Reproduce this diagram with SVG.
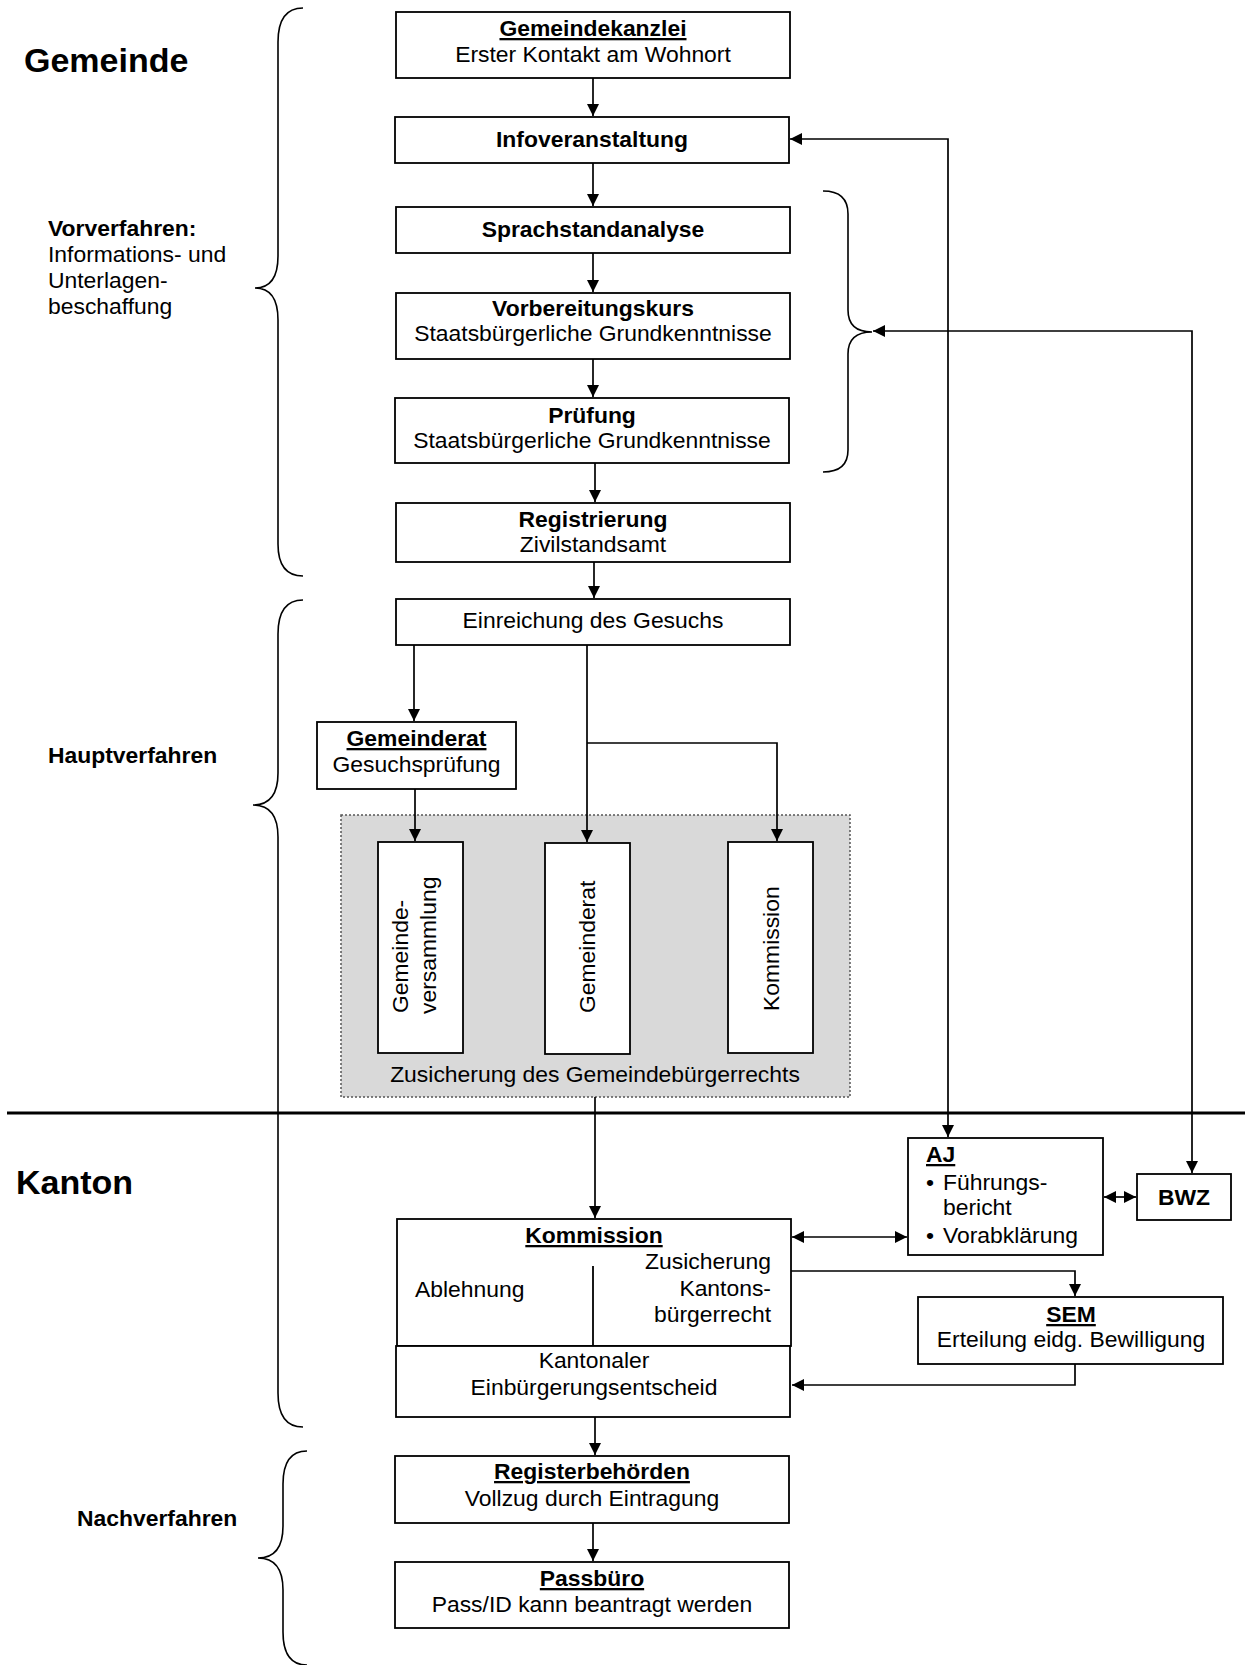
<svg xmlns="http://www.w3.org/2000/svg" width="1249" height="1665" viewBox="0 0 1249 1665">
<style>
text{font-family:"Liberation Sans",Arial,sans-serif;font-size:22.9px;fill:#000}
.b{font-weight:bold}
.u{text-decoration:underline}
.big{font-size:34px;font-weight:bold}
.m{text-anchor:middle}
.e{text-anchor:end}
.box{fill:#fff;stroke:#000;stroke-width:1.8}
.c{fill:none;stroke:#000;stroke-width:1.7}
.brace{fill:none;stroke:#000;stroke-width:1.6}
</style>
<defs>
<marker id="ah" viewBox="0 0 12 12" refX="12" refY="6" markerWidth="12" markerHeight="12" markerUnits="userSpaceOnUse" orient="auto-start-reverse">
<path d="M0,0 L12,6 L0,12 z" fill="#000"/>
</marker>
</defs>
<rect width="1249" height="1665" fill="#fff"/>

<g id="labels">
<text class="big" x="24" y="72">Gemeinde</text>
<text class="b" x="48" y="236">Vorverfahren:</text>
<text x="48" y="262">Informations- und</text>
<text x="48" y="288">Unterlagen-</text>
<text x="48" y="314">beschaffung</text>
<text class="b" x="48" y="763">Hauptverfahren</text>
<text class="big" x="16" y="1194">Kanton</text>
<text class="b" x="77" y="1526">Nachverfahren</text>
</g>

<g id="braces">
<path class="brace" d="M303,8 Q278,8 278,42 L278,256 Q278,288 255,288 Q278,288 278,320 L278,544 Q278,576 303,576"/>
<path class="brace" d="M303,600 Q278,600 278,634 L278,773 Q278,805 253,805 Q278,805 278,837 L278,1393 Q278,1427 303,1427"/>
<path class="brace" d="M307,1451 Q283,1451 283,1484 L283,1526 Q283,1558 258,1558 Q283,1558 283,1590 L283,1632 Q283,1665 307,1665"/>
<path class="brace" d="M823,191 Q848,191 848,214 L848,310 Q848,332 872,332 Q848,332 848,354 L848,450 Q848,472 823,472"/>
</g>

<line id="divider" x1="7" y1="1113" x2="1245" y2="1113" stroke="#000" stroke-width="3"/>

<g id="n-gemeindekanzlei">
<rect class="box" x="396" y="12" width="394" height="66"/>
<text class="b u m" x="593" y="36">Gemeindekanzlei</text>
<text class="m" x="593" y="62">Erster Kontakt am Wohnort</text>
</g>
<g id="n-infoveranstaltung">
<rect class="box" x="395" y="117" width="394" height="46"/>
<text class="b m" x="592" y="147">Infoveranstaltung</text>
</g>
<g id="n-sprachstandanalyse">
<rect class="box" x="396" y="207" width="394" height="46"/>
<text class="b m" x="593" y="237">Sprachstandanalyse</text>
</g>
<g id="n-vorbereitungskurs">
<rect class="box" x="396" y="293" width="394" height="66"/>
<text class="b m" x="593" y="316">Vorbereitungskurs</text>
<text class="m" x="593" y="341">Staatsbürgerliche Grundkenntnisse</text>
</g>
<g id="n-pruefung">
<rect class="box" x="395" y="398" width="394" height="65"/>
<text class="b m" x="592" y="423">Prüfung</text>
<text class="m" x="592" y="448">Staatsbürgerliche Grundkenntnisse</text>
</g>
<g id="n-registrierung">
<rect class="box" x="396" y="503" width="394" height="59"/>
<text class="b m" x="593" y="527">Registrierung</text>
<text class="m" x="593" y="552">Zivilstandsamt</text>
</g>
<g id="n-einreichung">
<rect class="box" x="396" y="599" width="394" height="46"/>
<text class="m" x="593" y="628">Einreichung des Gesuchs</text>
</g>
<g id="n-gemeinderat-pruefung">
<rect class="box" x="317" y="722" width="199" height="67"/>
<text class="b u m" x="416.5" y="746">Gemeinderat</text>
<text class="m" x="416.5" y="772">Gesuchsprüfung</text>
</g>

<g id="n-zusicherung-gemeinde">
<rect x="341" y="815" width="509" height="282" fill="#d9d9d9" stroke="#555" stroke-width="1.5" stroke-dasharray="2,2"/>
<text class="m" x="595" y="1082">Zusicherung des Gemeindebürgerrechts</text>
</g>
<g id="n-gemeindeversammlung">
<rect class="box" x="378" y="842" width="85" height="211"/>
<text transform="translate(408,1013) rotate(-90)">Gemeinde-</text>
<text transform="translate(436,1014) rotate(-90)">versammlung</text>
</g>
<g id="n-gemeinderat">
<rect class="box" x="545" y="843" width="85" height="211"/>
<text transform="translate(595,1013) rotate(-90)">Gemeinderat</text>
</g>
<g id="n-kommission-gemeinde">
<rect class="box" x="728" y="842" width="85" height="211"/>
<text transform="translate(779,1011) rotate(-90)">Kommission</text>
</g>

<g id="n-kommission">
<rect class="box" x="397" y="1219" width="394" height="127"/>
<line x1="593" y1="1266" x2="593" y2="1346" stroke="#000" stroke-width="1.8"/>
<text class="b u m" x="594" y="1243">Kommission</text>
<text x="415" y="1297">Ablehnung</text>
<text class="e" x="771" y="1269">Zusicherung</text>
<text class="e" x="771" y="1296">Kantons-</text>
<text class="e" x="771" y="1322">bürgerrecht</text>
</g>
<g id="n-einbuergerungsentscheid">
<rect class="box" x="396" y="1346" width="394" height="71"/>
<text class="m" x="594" y="1368">Kantonaler</text>
<text class="m" x="594" y="1395">Einbürgerungsentscheid</text>
</g>
<g id="n-aj">
<rect class="box" x="908" y="1138" width="195" height="117"/>
<text class="b u" x="926" y="1162">AJ</text>
<text x="926" y="1190">•</text>
<text x="943" y="1190">Führungs-</text>
<text x="943" y="1215">bericht</text>
<text x="926" y="1243">•</text>
<text x="943" y="1243">Vorabklärung</text>
</g>
<g id="n-bwz">
<rect class="box" x="1137" y="1174" width="94" height="46"/>
<text class="b m" x="1184" y="1205">BWZ</text>
</g>
<g id="n-sem">
<rect class="box" x="918" y="1297" width="305" height="67"/>
<text class="b u m" x="1071" y="1322">SEM</text>
<text class="m" x="1071" y="1347">Erteilung eidg. Bewilligung</text>
</g>
<g id="n-registerbehoerden">
<rect class="box" x="395" y="1456" width="394" height="67"/>
<text class="b u m" x="592" y="1479">Registerbehörden</text>
<text class="m" x="592" y="1506">Vollzug durch Eintragung</text>
</g>
<g id="n-passbuero">
<rect class="box" x="395" y="1562" width="394" height="66"/>
<text class="b u m" x="592" y="1586">Passbüro</text>
<text class="m" x="592" y="1612">Pass/ID kann beantragt werden</text>
</g>

<g id="connectors">
<path class="c" d="M593,78 L593,116" marker-end="url(#ah)"/>
<path class="c" d="M593,163 L593,206" marker-end="url(#ah)"/>
<path class="c" d="M593,253 L593,292" marker-end="url(#ah)"/>
<path class="c" d="M593,359 L593,397" marker-end="url(#ah)"/>
<path class="c" d="M595,463 L595,502" marker-end="url(#ah)"/>
<path class="c" d="M594,562 L594,598" marker-end="url(#ah)"/>
<path class="c" d="M414,645 L414,721" marker-end="url(#ah)"/>
<path class="c" d="M415,789 L415,841" marker-end="url(#ah)"/>
<path class="c" d="M587,645 L587,842" marker-end="url(#ah)"/>
<path class="c" d="M587,743 L777,743 L777,841" marker-end="url(#ah)"/>
<path class="c" d="M595,1097 L595,1218" marker-end="url(#ah)"/>
<path class="c" d="M790,139 L948,139 L948,1137" marker-start="url(#ah)" marker-end="url(#ah)"/>
<path class="c" d="M873,331 L1192,331 L1192,1173" marker-start="url(#ah)" marker-end="url(#ah)"/>
<path class="c" d="M792,1237 L907,1237" marker-start="url(#ah)" marker-end="url(#ah)"/>
<path class="c" d="M1104,1197 L1136,1197" marker-start="url(#ah)" marker-end="url(#ah)"/>
<path class="c" d="M791,1271 L1075,1271 L1075,1296" marker-end="url(#ah)"/>
<path class="c" d="M1075,1364 L1075,1385 L792,1385" marker-end="url(#ah)"/>
<path class="c" d="M595,1417 L595,1455" marker-end="url(#ah)"/>
<path class="c" d="M593,1523 L593,1561" marker-end="url(#ah)"/>
</g>
</svg>
